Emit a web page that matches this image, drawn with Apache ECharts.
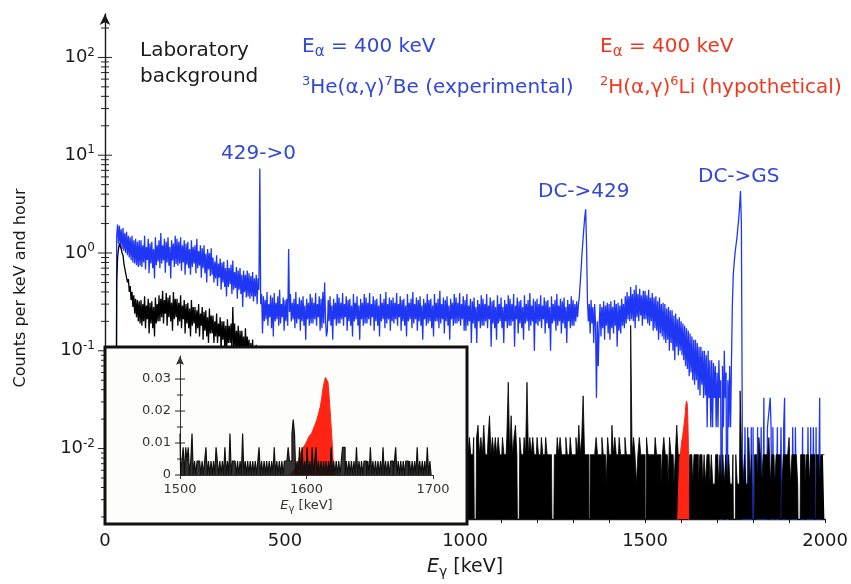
<!DOCTYPE html>
<html>
<head>
<meta charset="utf-8">
<title>Spectrum</title>
<script src="https://cdn.jsdelivr.net/npm/echarts@6.0.0/dist/echarts.min.js"></script>
<style>
  html, body { margin: 0; padding: 0; background: #ffffff; }
  #chart { width: 851px; height: 584px; }
</style>
</head>
<body>
<div id="chart"></div>
<script>
// 3He(a,g)7Be run, counts per keV and hour, one point every 2.5 keV from 0 keV
const blueStep = 2.5
const blueVals = [
  0, 0, 0, 0, 0, 0, 0, 0, 0, 0, 0, 0, 0, 1.5, 1.95, 1.25, 1.9, 1.2, 1.75, 1.1,
  1.8, 1.05, 1.6, 1.0, 1.65, 0.95, 1.5, 0.9, 1.45, 0.85, 1.5, 0.8, 1.35, 0.78, 1.4, 0.75, 1.3, 0.72, 1.35, 0.74,
  1.35, 0.72, 1.2, 0.8, 1.5, 0.68, 1.15, 0.85, 1.4, 0.62, 1.25, 0.78, 1.3, 0.7, 1.1, 0.55, 1.45, 0.75, 1.2, 0.82,
  1.35, 0.7, 1.6, 0.78, 1.2, 0.84, 1.4, 0.63, 1.3, 0.8, 1.45, 0.74, 1.15, 0.55, 1.35, 0.84, 1.25, 0.72, 1.5, 0.77,
  1.4, 0.74, 1.3, 0.78, 1.45, 0.66, 1.2, 0.8, 1.35, 0.6, 1.25, 0.76, 1.3, 0.7, 1.1, 0.6, 1.35, 0.72, 1.15, 0.78,
  1.2, 0.62, 1.4, 0.7, 1.05, 0.74, 1.2, 0.56, 1.12, 0.7, 1.2, 0.62, 0.98, 0.5, 1.1, 0.68, 1.0, 0.58, 1.12, 0.6,
  0.9, 0.5, 0.82, 0.55, 0.95, 0.46, 0.78, 0.56, 0.88, 0.42, 0.8, 0.5, 0.82, 0.45, 0.7, 0.36, 0.85, 0.45, 0.7, 0.48,
  0.76, 0.38, 0.84, 0.42, 0.64, 0.44, 0.72, 0.34, 0.66, 0.42, 0.7, 0.38, 0.6, 0.28, 0.66, 0.4, 0.6, 0.35, 0.66, 0.36,
  0.62, 0.34, 0.58, 0.36, 0.64, 0.32, 0.55, 0.36, 0.6, 0.3, 0.55, 0.42, 7.3, 0.3, 0.38, 0.15, 0.36, 0.2, 0.33, 0.21,
  0.4, 0.18, 0.3, 0.22, 0.37, 0.17, 0.35, 0.14, 0.39, 0.2, 0.31, 0.21, 0.36, 0.18, 0.42, 0.19, 0.3, 0.22, 0.35, 0.16,
  0.33, 0.2, 0.34, 0.18, 1.1, 0.25, 0.38, 0.2, 0.31, 0.21, 0.34, 0.17, 0.4, 0.19, 0.3, 0.21, 0.35, 0.16, 0.33, 0.2,
  0.36, 0.18, 0.29, 0.13, 0.34, 0.21, 0.31, 0.18, 0.38, 0.19, 0.35, 0.19, 0.31, 0.21, 0.39, 0.18, 0.3, 0.22, 0.36, 0.16,
  0.34, 0.17, 0.4, 0.19, 0.5, 0.21, 0.14, 0.16, 0.33, 0.2, 0.36, 0.18, 0.29, 0.13, 0.34, 0.21, 0.31, 0.18, 0.38, 0.19,
  0.35, 0.19, 0.31, 0.21, 0.39, 0.18, 0.3, 0.22, 0.36, 0.16, 0.33, 0.2, 0.34, 0.18, 0.29, 0.14, 0.38, 0.2, 0.31, 0.21,
  0.36, 0.18, 0.29, 0.13, 0.34, 0.21, 0.31, 0.18, 0.38, 0.19, 0.35, 0.19, 0.31, 0.21, 0.39, 0.18, 0.3, 0.22, 0.36, 0.16,
  0.33, 0.2, 0.34, 0.18, 0.29, 0.14, 0.38, 0.2, 0.31, 0.21, 0.34, 0.17, 0.4, 0.19, 0.3, 0.21, 0.35, 0.16, 0.33, 0.2,
  0.35, 0.19, 0.31, 0.21, 0.39, 0.18, 0.3, 0.22, 0.36, 0.16, 0.33, 0.2, 0.34, 0.18, 0.29, 0.14, 0.38, 0.2, 0.31, 0.21,
  0.34, 0.17, 0.4, 0.19, 0.3, 0.21, 0.35, 0.16, 0.33, 0.2, 0.36, 0.18, 0.29, 0.13, 0.34, 0.21, 0.31, 0.18, 0.38, 0.19,
  0.33, 0.2, 0.34, 0.17, 0.29, 0.14, 0.38, 0.2, 0.31, 0.2, 0.34, 0.17, 0.41, 0.19, 0.3, 0.21, 0.35, 0.15, 0.33, 0.2,
  0.36, 0.18, 0.29, 0.13, 0.34, 0.21, 0.31, 0.18, 0.38, 0.19, 0.35, 0.19, 0.31, 0.2, 0.39, 0.18, 0.3, 0.21, 0.36, 0.16,
  0.33, 0.16, 0.38, 0.18, 0.29, 0.2, 0.34, 0.12, 0.32, 0.19, 0.35, 0.17, 0.28, 0.12, 0.33, 0.2, 0.3, 0.17, 0.37, 0.18,
  0.34, 0.18, 0.3, 0.2, 0.38, 0.17, 0.29, 0.21, 0.35, 0.11, 0.32, 0.19, 0.33, 0.17, 0.28, 0.13, 0.37, 0.19, 0.3, 0.2,
  0.35, 0.17, 0.28, 0.12, 0.33, 0.2, 0.3, 0.17, 0.37, 0.18, 0.34, 0.18, 0.3, 0.2, 0.38, 0.11, 0.29, 0.21, 0.35, 0.15,
  0.32, 0.19, 0.33, 0.17, 0.28, 0.13, 0.37, 0.19, 0.3, 0.2, 0.33, 0.16, 0.39, 0.18, 0.29, 0.2, 0.34, 0.1, 0.32, 0.19,
  0.34, 0.18, 0.3, 0.2, 0.37, 0.17, 0.29, 0.21, 0.35, 0.15, 0.32, 0.19, 0.33, 0.17, 0.28, 0.1, 0.36, 0.19, 0.3, 0.2,
  0.33, 0.16, 0.38, 0.18, 0.29, 0.2, 0.34, 0.15, 0.32, 0.19, 0.35, 0.17, 0.28, 0.12, 0.33, 0.2, 0.3, 0.17, 0.36, 0.18,
  0.33, 0.18, 0.3, 0.2, 0.32, 0.22, 0.3, 0.36, 0.5, 0.7, 1.0, 1.35, 1.8, 2.3, 2.8, 1.2, 0.32, 0.2, 0.3, 0.15,
  0.33, 0.19, 0.28, 0.12, 0.3, 0.18, 0.033, 0.2, 0.07, 0.18, 0.3, 0.14, 0.28, 0.17, 0.32, 0.13, 0.29, 0.18, 0.31, 0.15,
  0.3, 0.13, 0.32, 0.17, 0.28, 0.15, 0.33, 0.18, 0.3, 0.11, 0.31, 0.16, 0.29, 0.15, 0.34, 0.18, 0.3, 0.17, 0.36, 0.19,
  0.4, 0.21, 0.36, 0.2, 0.45, 0.21, 0.38, 0.2, 0.42, 0.17, 0.47, 0.22, 0.38, 0.2, 0.43, 0.23, 0.37, 0.18, 0.41, 0.21,
  0.41, 0.21, 0.37, 0.19, 0.42, 0.18, 0.35, 0.2, 0.39, 0.16, 0.35, 0.17, 0.36, 0.16, 0.32, 0.13, 0.35, 0.15, 0.3, 0.14,
  0.31, 0.13, 0.3, 0.12, 0.27, 0.13, 0.28, 0.1, 0.26, 0.12, 0.26, 0.1, 0.23, 0.08, 0.24, 0.11, 0.21, 0.09, 0.22, 0.1,
  0.2, 0.09, 0.19, 0.08, 0.18, 0.07, 0.17, 0.065, 0.16, 0.055, 0.15, 0.06, 0.14, 0.05, 0.13, 0.045, 0.13, 0.05, 0.12, 0.04,
  0.11, 0.035, 0.11, 0.045, 0.1, 0.033, 0.1, 0.035, 0.09, 0.0165, 0.1, 0.033, 0.08, 0.0165, 0.08, 0.0165, 0.075, 0.033, 0.07, 0.0165,
  0.06, 0.0165, 0.08, 0.033, 0.05, 0, 0.07, 0.0165, 0.1, 0.033, 0.06, 0, 0.05, 0.0165, 0.07, 0.0165, 0.08, 0.3, 0.6, 0.8,
  1.0, 1.2, 1.4, 1.8, 2.2, 3.0, 4.3, 2.0, 0.0165, 0, 0, 0.0165, 0.0165, 0, 0.0165, 0.0165, 0, 0, 0.0165, 0,
  0.0165, 0, 0, 0, 0, 0.0165, 0, 0, 0, 0.0165, 0, 0, 0.033, 0, 0, 0, 0.0165, 0.0165, 0.0165, 0.033,
  0.0165, 0, 0.0165, 0.0165, 0, 0, 0, 0.0165, 0, 0, 0, 0.0165, 0.0165, 0, 0.0165, 0.033, 0, 0, 0, 0,
  0, 0, 0, 0, 0.0165, 0.0165, 0, 0.0165, 0.0165, 0.0165, 0, 0, 0, 0, 0, 0.0165, 0, 0, 0, 0,
  0, 0.0165, 0.0165, 0, 0.0165, 0, 0, 0.0165, 0.0165, 0, 0.0165, 0, 0, 0, 0.033, 0, 0, 0, 0, 0
]

// laboratory background, counts per keV and hour, every 2.5 keV up to 500 keV
const bgLowStep = 2.5
const bgLowVals = [
  0, 0, 0, 0, 0, 0, 0, 0, 0, 0, 0, 0, 0, 0.5, 0.9, 1.1, 1.25, 1.22, 1.1, 1.0,
  0.95, 0.78, 0.78, 0.62, 0.64, 0.5, 0.54, 0.4, 0.46, 0.33, 0.4, 0.28, 0.37, 0.24, 0.34, 0.22, 0.33, 0.2, 0.32, 0.19,
  0.33, 0.18, 0.3, 0.2, 0.36, 0.17, 0.29, 0.21, 0.34, 0.15, 0.31, 0.19, 0.32, 0.17, 0.28, 0.14, 0.35, 0.19, 0.3, 0.2,
  0.37, 0.2, 0.34, 0.22, 0.41, 0.19, 0.33, 0.24, 0.39, 0.18, 0.35, 0.22, 0.37, 0.2, 0.31, 0.16, 0.4, 0.21, 0.34, 0.22,
  0.34, 0.18, 0.31, 0.2, 0.37, 0.17, 0.29, 0.21, 0.33, 0.15, 0.3, 0.19, 0.31, 0.17, 0.27, 0.14, 0.33, 0.18, 0.28, 0.19,
  0.28, 0.15, 0.26, 0.17, 0.3, 0.14, 0.24, 0.18, 0.28, 0.13, 0.25, 0.16, 0.26, 0.14, 0.22, 0.12, 0.27, 0.15, 0.23, 0.15,
  0.23, 0.12, 0.2, 0.14, 0.24, 0.12, 0.19, 0.14, 0.22, 0.1, 0.2, 0.13, 0.2, 0.11, 0.18, 0.09, 0.21, 0.12, 0.18, 0.12,
  0.19, 0.1, 0.28, 0.11, 0.19, 0.09, 0.16, 0.11, 0.18, 0.08, 0.16, 0.1, 0.16, 0.09, 0.14, 0.075, 0.17, 0.09, 0.14, 0.09,
  0.13, 0.07, 0.12, 0.075, 0.13, 0.065, 0.11, 0.07, 0.115, 0.055, 0.1, 0.06, 0.1, 0.055, 0.09, 0.045, 0.1, 0.05, 0.085, 0.05,
  0.075, 0.045, 0.07, 0.045, 0.075, 0.04, 0.065, 0.042, 0.068, 0.036, 0.06, 0.038, 0.06, 0.035, 0.055, 0.03, 0.058, 0.034, 0.05, 0.032
]

// laboratory background 500-1000 keV (behind the inset), every 5 keV
const bgMidStart = 500
const bgMidStep = 5
const bgMidVals = [
  0.045, 0.035, 0.042, 0.032, 0.04, 0.03, 0.038, 0.028, 0.036, 0.027, 0.034, 0.025, 0.033, 0.024, 0.03, 0.022, 0.03, 0.02, 0.028, 0.02,
  0.025, 0.018, 0.045, 0.02, 0.024, 0.017, 0.022, 0.016, 0.021, 0.015, 0.02, 0.014, 0.019, 0.014, 0.018, 0.013, 0.017, 0.013, 0.017, 0.012,
  0.016, 0.012, 0.015, 0.011, 0.015, 0.011, 0.014, 0.01, 0.014, 0.01, 0.013, 0.01, 0.013, 0.009, 0.012, 0.009, 0.012, 0.009, 0.011, 0.008,
  0.011, 0.008, 0.011, 0.008, 0.01, 0.008, 0.01, 0.007, 0.01, 0.007, 0.009, 0.007, 0.009, 0.007, 0.009, 0.006, 0.009, 0.006, 0.008, 0.006,
  0.008, 0.006, 0.008, 0.006, 0.008, 0.006, 0.008, 0.006, 0.007, 0.005, 0.007, 0.005, 0.007, 0.005, 0.007, 0.005, 0.007, 0.005, 0.007, 0.005
]

// one count in a 1 keV channel, in counts per keV and hour
const countUnit = 0.00433

// laboratory background above 1000 keV, in counts, 4 keV wide bins
const bgHighStart = 1000
const bgHighStep = 4
const bgHighCounts = [
  2, 3, 2, 3, 2, 2, 3, 0, 3, 4,
  2, 3, 2, 4, 2, 2, 3, 5, 2, 3,
  2, 3, 2, 3, 2, 2, 3, 2, 2, 3,
  11, 2, 5, 2, 3, 4, 2, 0, 3, 2,
  2, 3, 2, 11, 2, 3, 2, 3, 2, 2,
  3, 2, 2, 3, 2, 2, 3, 2, 2, 2,
  2, 0, 2, 2, 3, 2, 3, 2, 2, 2,
  3, 2, 2, 3, 2, 2, 2, 3, 2, 4,
  2, 3, 8, 2, 2, 2, 0, 2, 2, 2,
  2, 3, 2, 2, 2, 3, 2, 2, 1, 3,
  2, 2, 4, 2, 3, 2, 2, 3, 2, 2,
  2, 3, 2, 2, 2, 42, 2, 3, 2, 1,
  2, 3, 2, 2, 2, 0, 3, 2, 2, 2,
  2, 2, 3, 2, 2, 2, 1, 2, 3, 2,
  2, 1, 3, 2, 2, 1, 2, 4, 2, 2,
  1, 2, 1, 2, 1, 1, 2, 2, 1, 2,
  2, 2, 1, 2, 2, 1, 2, 1, 2, 2,
  1, 2, 1, 1, 2, 2, 1, 2, 1, 2,
  1, 2, 1, 2, 1, 1, 2, 0, 2, 1,
  1, 9, 2, 1, 2, 1, 1, 3, 1, 2,
  0, 2, 2, 1, 3, 2, 1, 2, 2, 2,
  2, 3, 1, 2, 2, 1, 2, 2, 2, 0,
  1, 2, 2, 2, 2, 3, 1, 2, 2, 2,
  2, 1, 0, 2, 2, 2, 1, 2, 2, 1,
  2, 2, 2, 0, 2, 2, 1, 2, 2, 2
]

// inset: background counts in 1 keV channels from 1500 keV
const insetStart = 1500
const insetCounts = [
  3, 0, 1, 2, 0, 2, 1, 2, 0, 1,
  3, 0, 1, 0, 1, 1, 1, 0, 1, 0,
  1, 2, 0, 1, 0, 1, 0, 1, 0, 2,
  1, 0, 1, 0, 1, 0, 2, 0, 1, 0,
  3, 0, 1, 1, 1, 0, 1, 0, 1, 0,
  3, 0, 1, 0, 1, 0, 1, 0, 1, 0,
  1, 0, 1, 2, 0, 1, 0, 1, 0, 1,
  0, 1, 0, 1, 0, 2, 0, 1, 0, 1,
  0, 1, 0, 1, 1, 1, 2, 1, 1, 3,
  4, 3, 0, 1, 0, 2, 0, 2, 0, 1,
  0, 2, 0, 1, 0, 2, 0, 1, 2, 0,
  1, 0, 1, 0, 1, 0, 1, 0, 1, 0,
  2, 0, 1, 0, 1, 0, 1, 0, 1, 2,
  2, 0, 1, 0, 1, 0, 1, 0, 1, 0,
  2, 0, 1, 0, 1, 0, 1, 1, 0, 1,
  0, 2, 0, 1, 0, 1, 0, 1, 0, 1,
  0, 2, 0, 1, 0, 1, 0, 1, 1, 0,
  1, 2, 0, 1, 0, 1, 0, 1, 0, 1,
  1, 0, 1, 0, 1, 0, 1, 0, 2, 0,
  1, 0, 1, 0, 1, 0, 2, 0, 1, 0
]

// hypothetical 2H(a,g)6Li line, counts per keV and hour, 1 keV steps from 1587 keV
const redStart = 1587
const redVals = [
  0, 0.0005, 0.001, 0.0015, 0.002, 0.003, 0.004, 0.005, 0.0065, 0.0075,
  0.0085, 0.009, 0.0095, 0.0104, 0.011, 0.012, 0.0125, 0.013, 0.014, 0.015,
  0.016, 0.017, 0.0185, 0.02, 0.0215, 0.024, 0.027, 0.029, 0.0305, 0.031,
  0.029, 0.024, 0.018, 0.012, 0.005, 0, 0
]

// tick labels
const mainXLabels = [0, 500, 1000, 1500, 2000]
const mainYDecades = [0.01, 0.1, 1, 10, 100]
const insetYLabels = [0, 0.01, 0.02, 0.03]

const FONT = 'DejaVu Sans'
const BLUE = '#1f37f2'
const BLUE_TEXT = '#3246d8'
const RED = '#ff2414'
const RED_TEXT = '#f0381f'
const INK = '#1a1a1a'

// log axis can not show zero, push empty channels below the axis
const toLog = v => (v > 0 ? v : 1e-4)

// tick marks crossing the y axes: [x, y, half length]
const mainYTicks = []
mainYDecades.forEach(d => mainYTicks.push([0, d, 7]))
;[0.001, 0.01, 0.1, 1, 10, 100].forEach(d => {
  for (let k = 2; k <= 9; k++) {
    const v = d * k
    if (v >= 0.0019 && v <= 278) mainYTicks.push([0, v, 4])
  }
})
const insetYTicks = insetYLabels.map(v => [insetStart, v, 5])
;[0.005, 0.015, 0.025, 0.035].forEach(v => insetYTicks.push([insetStart, v, 3]))

function crossTick(params, api) {
  const p = api.coord([api.value(0), api.value(1)])
  const h = api.value(2)
  return {
    type: 'line',
    shape: { x1: p[0] - h, y1: p[1], x2: p[0] + h, y2: p[1] },
    style: { stroke: '#222', lineWidth: 1 }
  }
}

const richSup = { fontFamily: FONT, fontSize: 13, lineHeight: 13, verticalAlign: 'top' }
const richSub = { fontFamily: FONT, fontSize: 15, lineHeight: 15, verticalAlign: 'bottom' }

function label(text, left, top, color) {
  return {
    text: text,
    left: left,
    top: top,
    padding: 0,
    textStyle: {
      fontFamily: FONT,
      fontSize: 20,
      fontWeight: 'normal',
      lineHeight: 26,
      color: color,
      rich: {
        sup: Object.assign({ color: color }, richSup),
        sub: Object.assign({ color: color }, richSub)
      }
    }
  }
}

const bgLowData = bgLowVals.map((v, i) => [i * bgLowStep, toLog(v)])
  .concat(bgMidVals.map((v, i) => [bgMidStart + i * bgMidStep, toLog(v)]))

const myChart = echarts.init(document.getElementById('chart'))

const option = {
  animation: false,
  backgroundColor: '#ffffff',
  title: [
    label('Laboratory\nbackground', 140, 38, INK),
    label('E{sub|α} = 400 keV', 302, 34, BLUE_TEXT),
    label('{sup|3}He(α,γ){sup|7}Be (experimental)', 302, 75, BLUE_TEXT),
    label('E{sub|α} = 400 keV', 600, 34, RED_TEXT),
    label('{sup|2}H(α,γ){sup|6}Li (hypothetical)', 600, 75, RED_TEXT),
    label('429->0', 221, 141, BLUE_TEXT),
    label('DC->429', 538, 179, BLUE_TEXT),
    label('DC->GS', 698, 164, BLUE_TEXT)
  ],
  grid: [
    { left: 105, right: 25, top: 14, bottom: 59 },
    { left: 180, top: 356, width: 253, height: 119 }
  ],
  xAxis: [
    {
      type: 'value',
      gridIndex: 0,
      min: 0,
      max: 2000,
      interval: 100,
      axisLine: { onZero: false, lineStyle: { color: INK, width: 1.4 } },
      axisTick: { show: true, length: 4, lineStyle: { color: INK } },
      splitLine: { show: false },
      axisLabel: {
        margin: 13,
        fontFamily: FONT,
        fontSize: 18,
        color: INK,
        formatter: v => (mainXLabels.indexOf(v) >= 0 ? String(v) : '')
      },
      name: '{i|E}{g|γ} [keV]',
      nameLocation: 'middle',
      nameGap: 32,
      nameTextStyle: {
        fontFamily: FONT,
        fontSize: 19,
        color: INK,
        lineHeight: 24,
        rich: {
          i: { fontFamily: FONT, fontSize: 19, fontStyle: 'italic', color: INK, lineHeight: 24 },
          g: { fontFamily: FONT, fontSize: 14, color: INK, lineHeight: 14, verticalAlign: 'bottom' }
        }
      }
    },
    {
      type: 'value',
      gridIndex: 1,
      min: 1500,
      max: 1700,
      interval: 100,
      z: 20,
      axisLine: { onZero: false, lineStyle: { color: '#333', width: 1 } },
      axisTick: { show: true, length: 4, lineStyle: { color: '#333' } },
      splitLine: { show: false },
      axisLabel: { margin: 8, fontFamily: FONT, fontSize: 13, color: '#333', formatter: v => String(v) },
      name: '{i|E}{g|γ} [keV]',
      nameLocation: 'middle',
      nameGap: 23,
      nameTextStyle: {
        fontFamily: FONT,
        fontSize: 13,
        color: '#333',
        lineHeight: 16,
        rich: {
          i: { fontFamily: FONT, fontSize: 13, fontStyle: 'italic', color: '#333', lineHeight: 16 },
          g: { fontFamily: FONT, fontSize: 10, color: '#333', lineHeight: 10, verticalAlign: 'bottom' }
        }
      }
    }
  ],
  yAxis: [
    {
      type: 'log',
      logBase: 10,
      gridIndex: 0,
      min: 0.0019,
      max: 278,
      axisLine: {
        show: true,
        onZero: false,
        symbol: ['none', 'arrow'],
        symbolSize: [8, 11],
        lineStyle: { color: INK, width: 1.4 }
      },
      axisTick: { show: false },
      minorTick: { show: false },
      splitLine: { show: false },
      axisLabel: {
        margin: 10,
        fontFamily: FONT,
        fontSize: 18,
        lineHeight: 22,
        color: INK,
        formatter: function (v) {
          const e = Math.round(Math.log10(v))
          if (Math.abs(Math.log10(v) - e) > 1e-6) return ''
          return '10{s|' + e + '}'
        },
        rich: {
          s: { fontFamily: FONT, fontSize: 12, lineHeight: 12, verticalAlign: 'top', color: INK }
        }
      }
    },
    {
      type: 'value',
      gridIndex: 1,
      min: 0,
      max: 0.0372,
      interval: 0.01,
      z: 20,
      axisLine: {
        show: true,
        onZero: false,
        symbol: ['none', 'arrow'],
        symbolSize: [6, 9],
        lineStyle: { color: '#333', width: 1 }
      },
      axisTick: { show: false },
      splitLine: { show: false },
      axisLabel: {
        margin: 9,
        fontFamily: FONT,
        fontSize: 13,
        color: '#333',
        showMaxLabel: false,
        formatter: v => (insetYLabels.indexOf(Math.round(v * 1000) / 1000) >= 0 ? (v === 0 ? '0' : v.toFixed(2)) : '')
      }
    }
  ],
  graphic: [
    {
      type: 'rect',
      z: 10,
      shape: { x: 105, y: 347, width: 362, height: 177 },
      style: { fill: '#fdfdfb', stroke: '#111111', lineWidth: 3 }
    },
    {
      type: 'text',
      z: 5,
      x: 21,
      y: 288,
      rotation: Math.PI / 2,
      style: {
        text: 'Counts per keV and hour',
        fontFamily: FONT,
        fontSize: 16,
        fill: INK,
        align: 'center',
        verticalAlign: 'middle',
        textAlign: 'center',
        textVerticalAlign: 'middle'
      }
    }
  ],
  series: [
    {
      name: '3He(a,g)7Be',
      type: 'line',
      xAxisIndex: 0,
      yAxisIndex: 0,
      z: 2,
      showSymbol: false,
      clip: true,
      lineStyle: { color: BLUE, width: 1.3 },
      data: blueVals.map((v, i) => [i * blueStep, toLog(v)])
    },
    {
      name: 'background low',
      type: 'line',
      xAxisIndex: 0,
      yAxisIndex: 0,
      z: 3,
      showSymbol: false,
      clip: true,
      lineStyle: { color: '#000', width: 1.3 },
      data: bgLowData
    },
    {
      name: 'background high',
      type: 'line',
      xAxisIndex: 0,
      yAxisIndex: 0,
      z: 3,
      step: 'middle',
      showSymbol: false,
      clip: true,
      lineStyle: { color: '#000', width: 0.8 },
      areaStyle: { color: '#000', opacity: 1, origin: 'start' },
      data: bgHighCounts.map((c, i) => [bgHighStart + bgHighStep * i + bgHighStep / 2, toLog(c * countUnit)])
    },
    {
      name: '2H(a,g)6Li',
      type: 'line',
      xAxisIndex: 0,
      yAxisIndex: 0,
      z: 4,
      showSymbol: false,
      clip: true,
      lineStyle: { color: RED, width: 1 },
      areaStyle: { color: RED, opacity: 1, origin: 'start' },
      data: redVals.map((v, i) => [redStart + i, toLog(v)])
    },
    {
      name: 'main y ticks',
      type: 'custom',
      xAxisIndex: 0,
      yAxisIndex: 0,
      z: 2,
      silent: true,
      renderItem: crossTick,
      data: mainYTicks
    },
    {
      name: 'inset 2H(a,g)6Li',
      type: 'line',
      xAxisIndex: 1,
      yAxisIndex: 1,
      z: 20,
      showSymbol: false,
      clip: true,
      lineStyle: { color: RED, width: 1 },
      areaStyle: { color: RED, opacity: 1, origin: 'start' },
      data: redVals.map((v, i) => [redStart + i, v])
    },
    {
      name: 'inset background',
      type: 'line',
      xAxisIndex: 1,
      yAxisIndex: 1,
      z: 21,
      step: 'middle',
      showSymbol: false,
      clip: true,
      lineStyle: { color: '#111', width: 1.2 },
      areaStyle: { color: '#111', opacity: 0.85, origin: 'start' },
      data: insetCounts.map((c, i) => [insetStart + i, c * countUnit])
    },
    {
      name: 'inset y ticks',
      type: 'custom',
      xAxisIndex: 1,
      yAxisIndex: 1,
      z: 21,
      silent: true,
      renderItem: crossTick,
      data: insetYTicks
    }
  ]
}

myChart.setOption(option)
</script>
</body>
</html>
